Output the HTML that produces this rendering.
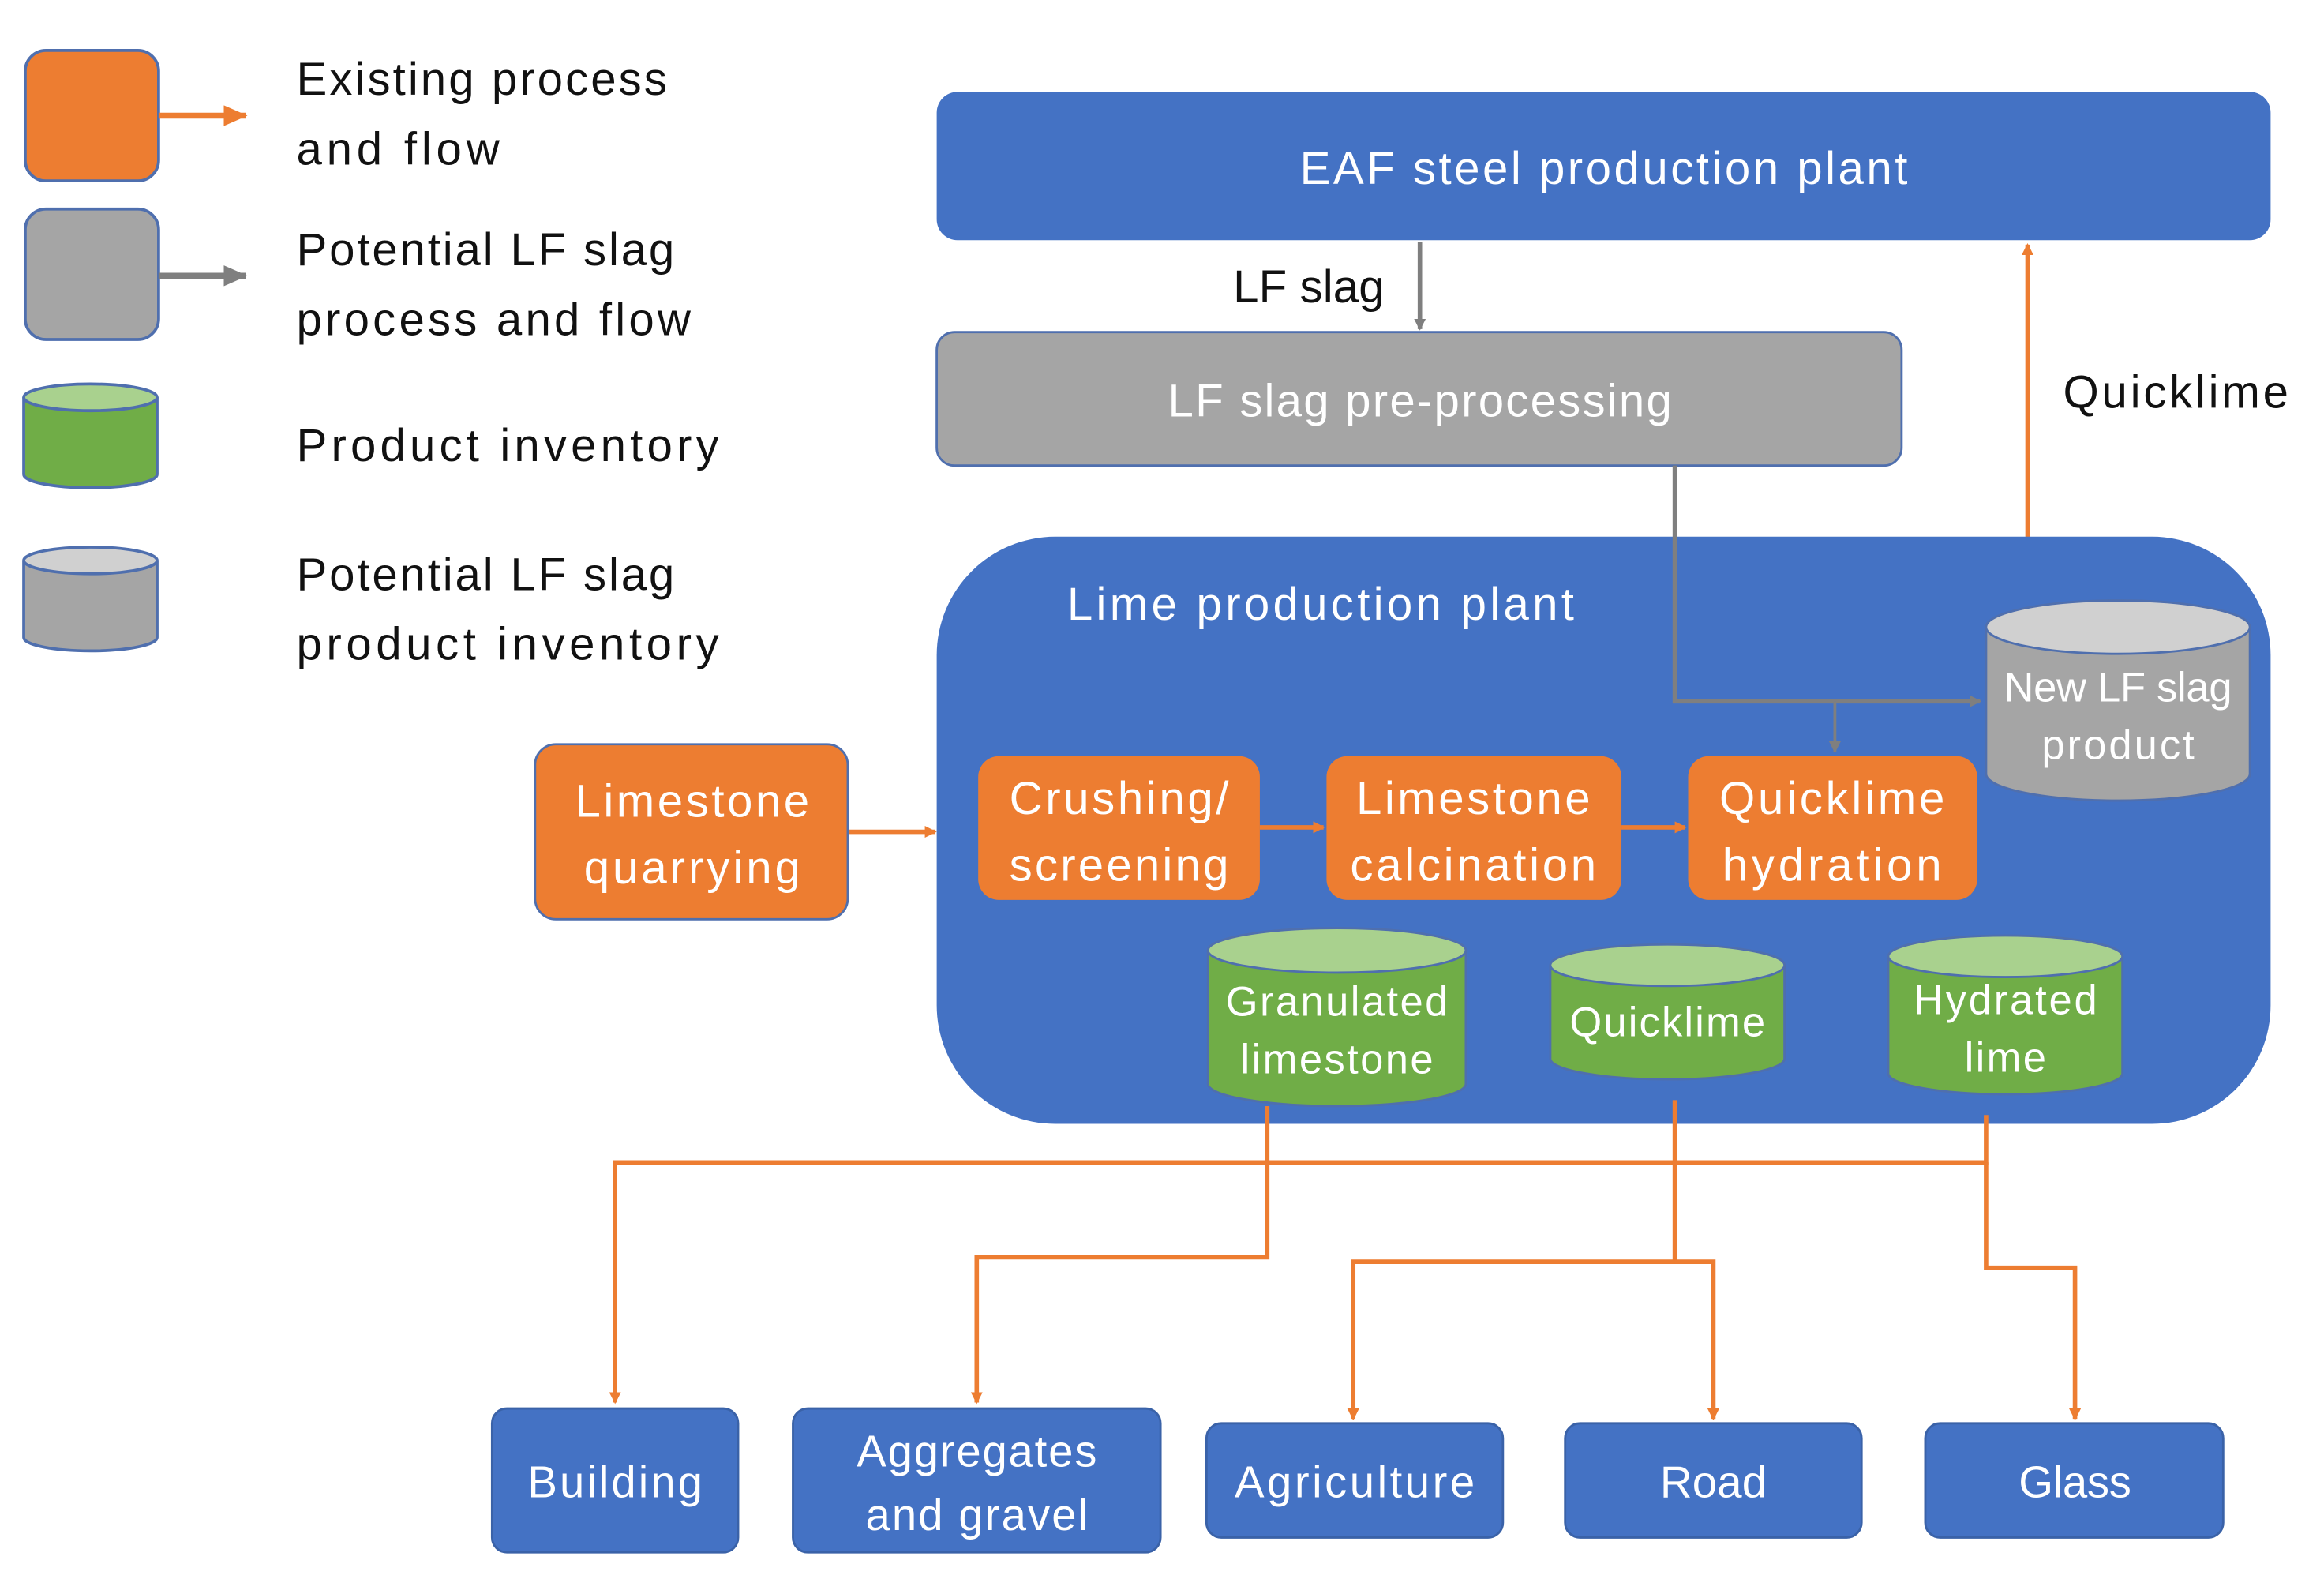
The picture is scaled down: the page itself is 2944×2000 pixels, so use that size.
<!DOCTYPE html>
<html><head><meta charset="utf-8"><style>
html,body{margin:0;padding:0;background:#fff;}
svg{display:block;}
text{font-family:"Liberation Sans",sans-serif;}
</style></head><body>
<svg width="2944" height="2000" viewBox="0 0 1568 1065" preserveAspectRatio="none" xmlns="http://www.w3.org/2000/svg">
<defs>
<marker id="ao" markerWidth="8" markerHeight="8" refX="7" refY="4" orient="auto" markerUnits="userSpaceOnUse"><path d="M0,0 L8,4 L0,8 Z" fill="#ed7d31"/></marker>
<marker id="ag" markerWidth="8" markerHeight="8" refX="7" refY="4" orient="auto" markerUnits="userSpaceOnUse"><path d="M0,0 L8,4 L0,8 Z" fill="#7f7f7f"/></marker>
<marker id="aoL" markerWidth="16" markerHeight="14" refX="15" refY="7" orient="auto" markerUnits="userSpaceOnUse"><path d="M0,0 L16,7 L0,14 Z" fill="#ed7d31"/></marker>
<marker id="agL" markerWidth="16" markerHeight="14" refX="15" refY="7" orient="auto" markerUnits="userSpaceOnUse"><path d="M0,0 L16,7 L0,14 Z" fill="#7f7f7f"/></marker>
</defs>

<rect x="17" y="34" width="90" height="88" rx="14" fill="#ed7d31" stroke="#4f6fae" stroke-width="2"/>
<line x1="107" y1="78" x2="166" y2="78" stroke="#ed7d31" stroke-width="4" marker-end="url(#aoL)"/>
<rect x="17" y="141" width="90" height="88" rx="14" fill="#a5a5a5" stroke="#4f6fae" stroke-width="2"/>
<line x1="107" y1="186" x2="166" y2="186" stroke="#7f7f7f" stroke-width="4" marker-end="url(#agL)"/>
<path d="M16,268 L16,320 A45,9 0 0 0 106,320 L106,268" fill="#70ad47" stroke="#4f6fae" stroke-width="2"/>
<ellipse cx="61" cy="268" rx="45" ry="9" fill="#a9d18e" stroke="#4f6fae" stroke-width="2"/>
<path d="M16,378 L16,430 A45,9 0 0 0 106,430 L106,378" fill="#a5a5a5" stroke="#4f6fae" stroke-width="2"/>
<ellipse cx="61" cy="378" rx="45" ry="9" fill="#d0d0d0" stroke="#4f6fae" stroke-width="2"/>

<g font-size="31" fill="#111">
<text x="200" y="64" textLength="250">Existing process</text>
<text x="200" y="111" textLength="137">and flow</text>
<text x="200" y="179" textLength="255">Potential LF slag</text>
<text x="200" y="226" textLength="266">process and flow</text>
<text x="200" y="311" textLength="285">Product inventory</text>
<text x="200" y="398" textLength="255">Potential LF slag</text>
<text x="200" y="445" textLength="285">product inventory</text>
</g>

<rect x="632" y="62" width="900" height="100" rx="14" fill="#4472c4"/>
<text x="1082" y="124" font-size="31" fill="#fff" text-anchor="middle" textLength="410">EAF steel production plant</text>
<line x1="958" y1="163" x2="958" y2="222" stroke="#7f7f7f" stroke-width="3" marker-end="url(#ag)"/>
<text x="832" y="204" font-size="31" fill="#111" textLength="102">LF slag</text>

<rect x="632" y="224" width="651" height="90" rx="12" fill="#a5a5a5" stroke="#4f6fae" stroke-width="1.5"/>
<text x="958" y="281" font-size="31" fill="#fff" text-anchor="middle" textLength="340">LF slag pre-processing</text>

<line x1="1368" y1="364" x2="1368" y2="165" stroke="#ed7d31" stroke-width="3" marker-end="url(#ao)"/>
<text x="1392" y="275" font-size="31" fill="#111" textLength="152">Quicklime</text>

<rect x="632" y="362" width="900" height="396" rx="80" fill="#4472c4"/>
<text x="720" y="418" font-size="31" fill="#fff" textLength="342">Lime production plant</text>

<polyline points="1130,314 1130,473 1336,473" fill="none" stroke="#7f7f7f" stroke-width="3" marker-end="url(#ag)"/>
<line x1="1238" y1="473" x2="1238" y2="507" stroke="#7f7f7f" stroke-width="2" marker-end="url(#ag)"/>

<path d="M1340,423 L1340,522 A89,18 0 0 0 1518,522 L1518,423" fill="#a5a5a5" stroke="#4f6fae" stroke-width="1.5"/>
<ellipse cx="1429" cy="423" rx="89" ry="18" fill="#d0d0d0" stroke="#4f6fae" stroke-width="1.5"/>
<text x="1429" y="473" font-size="28" fill="#fff" text-anchor="middle" textLength="154">New LF slag</text>
<text x="1429" y="512" font-size="28" fill="#fff" text-anchor="middle" textLength="103">product</text>

<rect x="361" y="502" width="211" height="118" rx="14" fill="#ed7d31" stroke="#4f6fae" stroke-width="1.5"/>
<text x="467" y="551" font-size="31" fill="#fff" text-anchor="middle" textLength="158">Limestone</text>
<text x="467" y="596" font-size="31" fill="#fff" text-anchor="middle" textLength="146">quarrying</text>
<line x1="573" y1="561" x2="631" y2="561" stroke="#ed7d31" stroke-width="3" marker-end="url(#ao)"/>

<rect x="660" y="510" width="190" height="97" rx="14" fill="#ed7d31"/>
<text x="755" y="549" font-size="31" fill="#fff" text-anchor="middle" textLength="148">Crushing/</text>
<text x="755" y="594" font-size="31" fill="#fff" text-anchor="middle" textLength="148">screening</text>
<line x1="850" y1="558" x2="893" y2="558" stroke="#ed7d31" stroke-width="3" marker-end="url(#ao)"/>
<rect x="895" y="510" width="199" height="97" rx="14" fill="#ed7d31"/>
<text x="994" y="549" font-size="31" fill="#fff" text-anchor="middle" textLength="158">Limestone</text>
<text x="994" y="594" font-size="31" fill="#fff" text-anchor="middle" textLength="166">calcination</text>
<line x1="1094" y1="558" x2="1137" y2="558" stroke="#ed7d31" stroke-width="3" marker-end="url(#ao)"/>
<rect x="1139" y="510" width="195" height="97" rx="14" fill="#ed7d31"/>
<text x="1236" y="549" font-size="31" fill="#fff" text-anchor="middle" textLength="152">Quicklime</text>
<text x="1236" y="594" font-size="31" fill="#fff" text-anchor="middle" textLength="148">hydration</text>

<path d="M815,641 L815,731 A87,15 0 0 0 989,731 L989,641" fill="#70ad47" stroke="#4f6fae" stroke-width="1.5"/>
<ellipse cx="902" cy="641" rx="87" ry="15" fill="#a9d18e" stroke="#4f6fae" stroke-width="1.5"/>
<text x="902" y="685" font-size="28" fill="#fff" text-anchor="middle" textLength="150">Granulated</text>
<text x="902" y="724" font-size="28" fill="#fff" text-anchor="middle" textLength="130">limestone</text>

<path d="M1046,651 L1046,714 A79,14 0 0 0 1204,714 L1204,651" fill="#70ad47" stroke="#4f6fae" stroke-width="1.5"/>
<ellipse cx="1125" cy="651" rx="79" ry="14" fill="#a9d18e" stroke="#4f6fae" stroke-width="1.5"/>
<text x="1125" y="699" font-size="28" fill="#fff" text-anchor="middle" textLength="132">Quicklime</text>

<path d="M1274,645 L1274,724 A79,14 0 0 0 1432,724 L1432,645" fill="#70ad47" stroke="#4f6fae" stroke-width="1.5"/>
<ellipse cx="1353" cy="645" rx="79" ry="14" fill="#a9d18e" stroke="#4f6fae" stroke-width="1.5"/>
<text x="1353" y="684" font-size="28" fill="#fff" text-anchor="middle" textLength="124">Hydrated</text>
<text x="1353" y="723" font-size="28" fill="#fff" text-anchor="middle" textLength="55">lime</text>

<g fill="none" stroke="#ed7d31" stroke-width="3">
<polyline points="1340,752 1340,784 415,784 415,946" marker-end="url(#ao)"/>
<polyline points="855,746 855,848 659,848 659,946" marker-end="url(#ao)"/>
<polyline points="1130,742 1130,851 913,851 913,957" marker-end="url(#ao)"/>
<polyline points="1130,851 1156,851 1156,957" marker-end="url(#ao)"/>
<polyline points="1340,784 1340,855 1400,855 1400,957" marker-end="url(#ao)"/>
</g>

<rect x="332" y="950" width="166" height="97" rx="10" fill="#4472c4" stroke="#3a62a8" stroke-width="1.5"/>
<text x="415" y="1010" font-size="30" fill="#fff" text-anchor="middle" textLength="118">Building</text>
<rect x="535" y="950" width="248" height="97" rx="10" fill="#4472c4" stroke="#3a62a8" stroke-width="1.5"/>
<text x="659" y="989" font-size="30" fill="#fff" text-anchor="middle" textLength="162">Aggregates</text>
<text x="659" y="1032" font-size="30" fill="#fff" text-anchor="middle" textLength="150">and gravel</text>
<rect x="814" y="960" width="200" height="77" rx="10" fill="#4472c4" stroke="#3a62a8" stroke-width="1.5"/>
<text x="914" y="1010" font-size="30" fill="#fff" text-anchor="middle" textLength="162">Agriculture</text>
<rect x="1056" y="960" width="200" height="77" rx="10" fill="#4472c4" stroke="#3a62a8" stroke-width="1.5"/>
<text x="1156" y="1010" font-size="30" fill="#fff" text-anchor="middle" textLength="72">Road</text>
<rect x="1299" y="960" width="201" height="77" rx="10" fill="#4472c4" stroke="#3a62a8" stroke-width="1.5"/>
<text x="1400" y="1010" font-size="30" fill="#fff" text-anchor="middle" textLength="76">Glass</text>
</svg>
</body></html>
